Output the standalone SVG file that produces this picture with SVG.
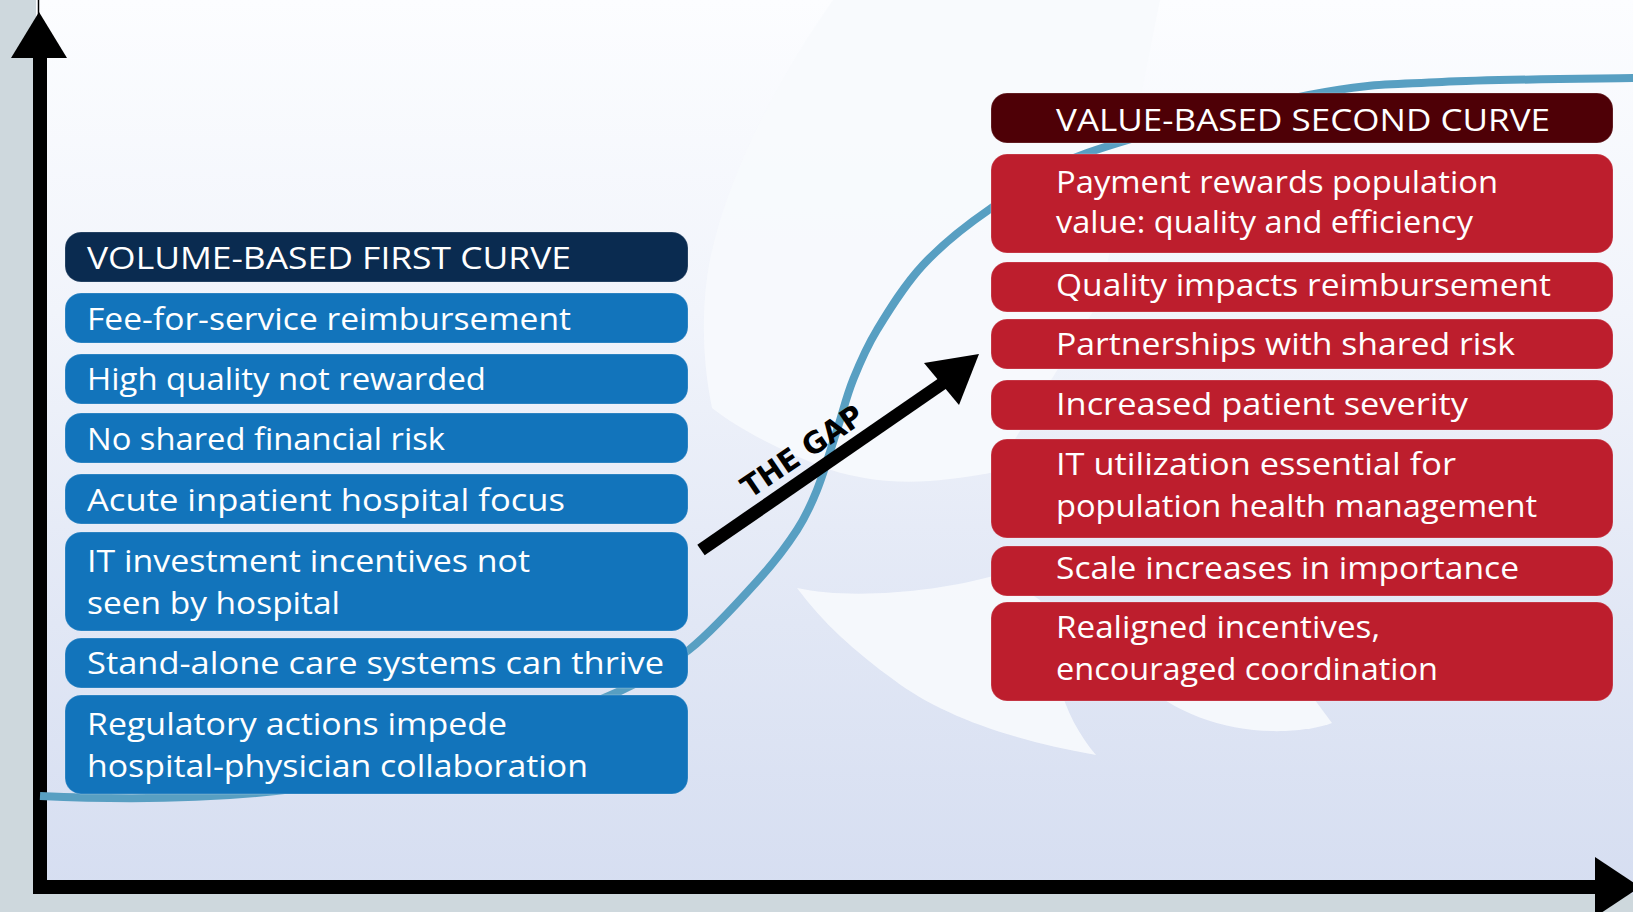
<svg xmlns="http://www.w3.org/2000/svg" width="1633" height="912" viewBox="0 0 1633 912">
  <defs>
    <linearGradient id="bg" x1="0" y1="0" x2="0" y2="890" gradientUnits="userSpaceOnUse">
      <stop offset="0" stop-color="#fcfdff"/>
      <stop offset="0.35" stop-color="#f1f4fb"/>
      <stop offset="0.7" stop-color="#e1e7f5"/>
      <stop offset="1" stop-color="#d6def1"/>
    </linearGradient>
  </defs>
  <style>
    .lbl{font-family:"Open Sans","Liberation Sans",sans-serif;font-size:31px;fill:#ffffff}
    .box{stroke:#ffffff;stroke-opacity:0.22;stroke-width:1}
    .vol{fill:#1274bb}
    .volhead{fill:#0a2b50}
    .val{fill:#bd1e2d}
    .valhead{fill:#4e0006}
    .swirl{fill:#f7f9fd;opacity:0.9}
    .axis{stroke:#000000;stroke-width:14;fill:none}
    .curve{stroke:#589fc2;stroke-width:8;fill:none}
  </style>

  <!-- backdrop -->
  <rect x="0" y="0" width="1633" height="912" fill="url(#bg)"/>
  <rect x="0" y="0" width="36" height="912" fill="#ced8dd"/>
  <rect x="0" y="894" width="1633" height="18" fill="#ced8dd"/>

  <!-- pale swirl marks behind the chart -->
  <g id="swirls">
    <path class="swirl" d="M 833 0 C 780 75 727 175 710 260 C 701 305 702 360 712 408 C 740 430 780 450 820 466 C 850 478 890 484 930 481 C 955 479 975 476 995 472 L 1100 300 L 1160 0 Z"/>
    <path class="swirl" d="M 797 588 C 850 600 940 592 1000 574 L 1040 600 L 1058 680 C 1066 712 1080 736 1096 755 C 1010 740 940 715 894 680 C 855 652 822 622 797 588 Z"/>
    <path class="swirl" d="M 1140 680 C 1175 715 1230 733 1285 731 C 1305 730 1322 727 1332 723 L 1300 680 Z"/>
  </g>

  <!-- axes -->
  <g id="axes">
    <line x1="38.5" y1="0" x2="38.5" y2="16" stroke="#000" stroke-width="1.5"/>
    <line class="axis" x1="40" y1="50" x2="40" y2="894"/>
    <line class="axis" x1="33" y1="887" x2="1600" y2="887"/>
    <polygon points="39,12 11,58 67,58" fill="#000"/>
    <polygon points="1595,857 1640,887 1595,917" fill="#000"/>
  </g>

  <!-- S-shaped growth curve -->
  <g id="curve">
    <path class="curve" d="M 40 796 C 150 801 230 797 293 789 C 420 772 581.7 708.8 620 691 C 658.3 673.2 666.7 667.8 690 649 C 713.3 630.2 742.2 597.8 760 578 C 777.8 558.2 787.5 544.7 797 530 C 806.5 515.3 810.3 506.7 817 490 C 823.7 473.3 831 448.3 837 430 C 843 411.7 846.3 396.7 853 380 C 859.7 363.3 865.3 349.2 877 330 C 888.7 310.8 904.2 285.2 923 265 C 941.8 244.8 962.7 227.7 990 209 C 1017.3 190.3 1033.8 172 1087 153 C 1140.2 134 1249.8 106.8 1309 95 C 1368.2 83.2 1388 84.8 1442 82 C 1496 79.2 1601.2 78.7 1640 78"/>
  </g>

  <!-- first curve column -->
  <g id="volume-header">
    <rect class="box volhead" x="65" y="232" width="623" height="50" rx="16"/>
    <text class="lbl" x="87" y="269" textLength="484" lengthAdjust="spacingAndGlyphs">VOLUME-BASED FIRST CURVE</text>
  </g>
  <g id="volume-fee">
    <rect class="box vol" x="65" y="293" width="623" height="50" rx="16"/>
    <text class="lbl" x="87" y="330" textLength="484" lengthAdjust="spacingAndGlyphs">Fee-for-service reimbursement</text>
  </g>
  <g id="volume-quality">
    <rect class="box vol" x="65" y="354" width="623" height="50" rx="16"/>
    <text class="lbl" x="87" y="390" textLength="399" lengthAdjust="spacingAndGlyphs">High quality not rewarded</text>
  </g>
  <g id="volume-risk">
    <rect class="box vol" x="65" y="413" width="623" height="50" rx="16"/>
    <text class="lbl" x="87" y="450" textLength="358" lengthAdjust="spacingAndGlyphs">No shared financial risk</text>
  </g>
  <g id="volume-acute">
    <rect class="box vol" x="65" y="474" width="623" height="50" rx="16"/>
    <text class="lbl" x="87" y="511" textLength="478" lengthAdjust="spacingAndGlyphs">Acute inpatient hospital focus</text>
  </g>
  <g id="volume-it">
    <rect class="box vol" x="65" y="532" width="623" height="99" rx="16"/>
    <text class="lbl" x="87" y="572" textLength="443" lengthAdjust="spacingAndGlyphs">IT investment incentives not</text>
    <text class="lbl" x="87" y="614" textLength="253" lengthAdjust="spacingAndGlyphs">seen by hospital</text>
  </g>
  <g id="volume-standalone">
    <rect class="box vol" x="65" y="638" width="623" height="50" rx="16"/>
    <text class="lbl" x="87" y="674" textLength="577" lengthAdjust="spacingAndGlyphs">Stand-alone care systems can thrive</text>
  </g>
  <g id="volume-regulatory">
    <rect class="box vol" x="65" y="695" width="623" height="99" rx="16"/>
    <text class="lbl" x="87" y="735" textLength="420" lengthAdjust="spacingAndGlyphs">Regulatory actions impede</text>
    <text class="lbl" x="87" y="777" textLength="501" lengthAdjust="spacingAndGlyphs">hospital-physician collaboration</text>
  </g>

  <!-- second curve column -->
  <g id="value-header">
    <rect class="box valhead" x="991" y="93" width="622" height="50" rx="16"/>
    <text class="lbl" x="1056" y="131" textLength="494" lengthAdjust="spacingAndGlyphs">VALUE-BASED SECOND CURVE</text>
  </g>
  <g id="value-payment">
    <rect class="box val" x="991" y="154" width="622" height="99" rx="16"/>
    <text class="lbl" x="1056" y="193" textLength="442" lengthAdjust="spacingAndGlyphs">Payment rewards population</text>
    <text class="lbl" x="1056" y="233" textLength="417" lengthAdjust="spacingAndGlyphs">value: quality and efficiency</text>
  </g>
  <g id="value-quality">
    <rect class="box val" x="991" y="262" width="622" height="50" rx="16"/>
    <text class="lbl" x="1056" y="296" textLength="495" lengthAdjust="spacingAndGlyphs">Quality impacts reimbursement</text>
  </g>
  <g id="value-partnerships">
    <rect class="box val" x="991" y="319" width="622" height="50" rx="16"/>
    <text class="lbl" x="1056" y="355" textLength="459" lengthAdjust="spacingAndGlyphs">Partnerships with shared risk</text>
  </g>
  <g id="value-severity">
    <rect class="box val" x="991" y="380" width="622" height="50" rx="16"/>
    <text class="lbl" x="1056" y="415" textLength="412" lengthAdjust="spacingAndGlyphs">Increased patient severity</text>
  </g>
  <g id="value-it">
    <rect class="box val" x="991" y="439" width="622" height="99" rx="16"/>
    <text class="lbl" x="1056" y="475" textLength="400" lengthAdjust="spacingAndGlyphs">IT utilization essential for</text>
    <text class="lbl" x="1056" y="517" textLength="481" lengthAdjust="spacingAndGlyphs">population health management</text>
  </g>
  <g id="value-scale">
    <rect class="box val" x="991" y="546" width="622" height="50" rx="16"/>
    <text class="lbl" x="1056" y="579" textLength="463" lengthAdjust="spacingAndGlyphs">Scale increases in importance</text>
  </g>
  <g id="value-incentives">
    <rect class="box val" x="991" y="602" width="622" height="99" rx="16"/>
    <text class="lbl" x="1056" y="638" textLength="324" lengthAdjust="spacingAndGlyphs">Realigned incentives,</text>
    <text class="lbl" x="1056" y="680" textLength="382" lengthAdjust="spacingAndGlyphs">encouraged coordination</text>
  </g>

  <!-- gap arrow between the two columns -->
  <g id="connectors">
    <line x1="701" y1="550" x2="946" y2="381" stroke="#000" stroke-width="13"/>
    <polygon points="979,354 924,363 959,405" fill="#000"/>
    <text transform="translate(750,499) rotate(-34)" font-family="'DejaVu Sans', 'Liberation Sans', sans-serif" font-weight="bold" font-size="30" fill="#000" textLength="140" lengthAdjust="spacingAndGlyphs">THE GAP</text>
  </g>
</svg>
